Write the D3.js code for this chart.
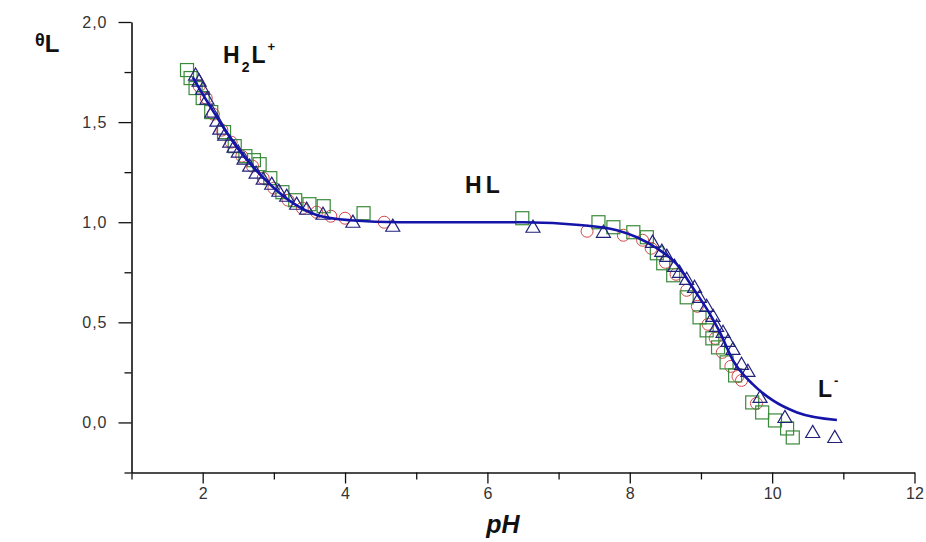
<!DOCTYPE html>
<html>
<head>
<meta charset="utf-8">
<script src="https://cdn.jsdelivr.net/npm/d3@7"></script>
<style>
  body { margin: 0; background: #fff; }
  svg { display: block; font-family: Arial, "Liberation Sans", sans-serif; }
</style>
</head>
<body>
<svg id="chart" width="926" height="542"></svg>
<script>
// ---- data (pH, theta_L) ----
const curvePH    = [1.86, 2.00, 2.20, 2.48, 2.71, 2.99, 3.27, 3.61, 4.07, 4.77, 5.5, 6.5, 7.34, 7.82, 8.10, 8.38, 8.66, 8.89, 9.12, 9.26, 9.45, 9.73, 10.01, 10.35, 10.91];
const curveTheta = [1.725, 1.64, 1.525, 1.375, 1.275, 1.175, 1.095, 1.035, 1.01, 1.00, 1.0, 1.0, 0.985, 0.96, 0.925, 0.87, 0.79, 0.67, 0.545, 0.455, 0.31, 0.19, 0.11, 0.05, 0.012];

const squarePH    = [1.78, 1.83, 1.90, 2.00, 2.12, 2.30, 2.45, 2.60, 2.72, 2.80, 2.95, 3.12, 3.30, 3.50, 3.70, 4.26, 6.49, 7.56, 7.77, 8.05, 8.24, 8.38, 8.47, 8.61, 8.80, 8.98, 9.08, 9.16, 9.24, 9.36, 9.48, 9.72, 9.86, 10.04, 10.21, 10.29];
const squareTheta = [1.76, 1.72, 1.67, 1.62, 1.55, 1.45, 1.38, 1.33, 1.31, 1.29, 1.22, 1.15, 1.11, 1.09, 1.08, 1.045, 1.02, 1.00, 0.975, 0.95, 0.925, 0.845, 0.795, 0.735, 0.625, 0.525, 0.46, 0.42, 0.375, 0.30, 0.235, 0.10, 0.05, 0.01, -0.03, -0.075];

const circlePH    = [1.95, 2.05, 2.15, 2.27, 2.40, 2.55, 2.70, 2.85, 3.00, 3.20, 3.40, 3.60, 3.80, 4.00, 4.55, 7.40, 7.91, 8.18, 8.30, 8.50, 8.65, 8.80, 8.95, 9.10, 9.20, 9.30, 9.42, 9.52, 9.57, 9.78];
const circleTheta = [1.68, 1.62, 1.54, 1.46, 1.40, 1.33, 1.28, 1.22, 1.17, 1.11, 1.07, 1.05, 1.03, 1.02, 1.00, 0.955, 0.935, 0.91, 0.87, 0.80, 0.74, 0.66, 0.58, 0.49, 0.42, 0.35, 0.28, 0.23, 0.21, 0.095];

const triPH    = [1.90, 1.95, 2.00, 2.06, 2.13, 2.20, 2.24, 2.31, 2.38, 2.44, 2.50, 2.58, 2.66, 2.75, 2.85, 2.97, 3.07, 3.18, 3.32, 3.46, 3.69, 4.11, 4.67, 6.64, 7.63, 8.32, 8.45, 8.52, 8.63, 8.70, 8.80, 8.91, 8.98, 9.08, 9.17, 9.22, 9.31, 9.38, 9.45, 9.57, 9.66, 9.83, 10.18, 10.57, 10.88];
const triTheta = [1.73, 1.70, 1.66, 1.61, 1.545, 1.50, 1.46, 1.43, 1.395, 1.37, 1.345, 1.31, 1.275, 1.24, 1.21, 1.185, 1.15, 1.125, 1.085, 1.06, 1.035, 0.995, 0.975, 0.97, 0.945, 0.895, 0.85, 0.825, 0.775, 0.745, 0.71, 0.67, 0.62, 0.575, 0.525, 0.475, 0.445, 0.40, 0.36, 0.285, 0.25, 0.12, 0.02, -0.055, -0.08];

const xTicks = [1, 2, 3, 4, 5, 6, 7, 8, 9, 10, 11, 12];
const xTickLabels = ["", "2", "", "4", "", "6", "", "8", "", "10", "", "12"];
const yTicks = [-0.25, 0, 0.25, 0.5, 0.75, 1.0, 1.25, 1.5, 1.75, 2.0];
const yTickLabels = ["", "0,0", "", "0,5", "", "1,0", "", "1,5", "", "2,0"];

// ---- scales ----
const svg = d3.select("#chart");
const x = d3.scaleLinear().domain([1, 12]).range([131.5, 914.5]);
const y = d3.scaleLinear().domain([-0.25, 2.0]).range([472.5, 22]);

// ---- axes ----
const xAxis = d3.axisBottom(x).tickValues(xTicks)
  .tickFormat((d, i) => xTickLabels[i]).tickSizeOuter(0);
const gx = svg.append("g").attr("transform", `translate(0,${y(-0.25)})`).call(xAxis);
gx.select(".domain").attr("stroke", "#111").attr("stroke-width", 1.6);
gx.selectAll(".tick line").attr("stroke", "#111").attr("stroke-width", 1.3)
  .attr("y2", (d, i) => xTickLabels[i] ? 11 : 7);
gx.selectAll(".tick text").attr("y", 15).attr("font-size", 16).attr("fill", "#333");

const yAxis = d3.axisLeft(y).tickValues(yTicks)
  .tickFormat((d, i) => yTickLabels[i]).tickSizeOuter(0);
const gy = svg.append("g").attr("transform", `translate(${x(1)},0)`).call(yAxis);
gy.select(".domain").attr("stroke", "#111").attr("stroke-width", 1.6);
gy.selectAll(".tick line").attr("stroke", "#111").attr("stroke-width", 1.3)
  .attr("x2", (d, i) => yTickLabels[i] ? -13 : -7);
gy.selectAll(".tick text").attr("x", -24).attr("font-size", 16).attr("fill", "#333")
  .attr("letter-spacing", 1);

// ---- markers ----
const squares = squarePH.map((p, i) => [p, squareTheta[i]]);
const circles = circlePH.map((p, i) => [p, circleTheta[i]]);
const tris = triPH.map((p, i) => [p, triTheta[i]]);

svg.append("g").selectAll("circle").data(circles).join("circle")
  .attr("cx", d => x(d[0])).attr("cy", d => y(d[1])).attr("r", 6)
  .attr("fill", "none").attr("stroke", "#d04848").attr("stroke-width", 1);

svg.append("g").selectAll("rect").data(squares).join("rect")
  .attr("x", d => x(d[0]) - 6.5).attr("y", d => y(d[1]) - 6.5)
  .attr("width", 13).attr("height", 13)
  .attr("fill", "none").attr("stroke", "#3a8a3a").attr("stroke-width", 1.2);

const triPath = d3.symbol().type(d3.symbolTriangle).size(85);
svg.append("g").selectAll("path").data(tris).join("path")
  .attr("d", triPath)
  .attr("transform", d => `translate(${x(d[0])},${y(d[1])})`)
  .attr("fill", "none").attr("stroke", "#22227a").attr("stroke-width", 1.2);

// ---- fitted curve ----
const curve = curvePH.map((p, i) => [p, curveTheta[i]]);
const line = d3.line().x(d => x(d[0])).y(d => y(d[1])).curve(d3.curveMonotoneX);
svg.append("path").datum(curve).attr("d", line)
  .attr("fill", "none").attr("stroke", "#1414a8").attr("stroke-width", 2.6);

// ---- labels ----
const yl = svg.append("text").attr("x", 35).attr("y", 52).attr("font-weight", "bold").attr("fill", "#111");
yl.append("tspan").attr("font-size", 18).attr("dy", -6).text("θ");
yl.append("tspan").attr("font-size", 24).attr("dy", 6).text("L");

svg.append("text").attr("x", 503).attr("y", 533).attr("text-anchor", "middle")
  .attr("font-size", 25).attr("font-weight", "bold").attr("font-style", "italic")
  .attr("fill", "#111").text("pH");

const h2l = svg.append("text").attr("x", 223).attr("y", 63).attr("font-weight", "bold").attr("fill", "#111").attr("font-size", 23);
h2l.append("tspan").text("H");
h2l.append("tspan").attr("font-size", 14).attr("dy", 9).attr("dx", 2).text("2");
h2l.append("tspan").attr("dy", -9).attr("dx", 2).text("L");
h2l.append("tspan").attr("font-size", 13).attr("dy", -12).attr("dx", 2).text("+");

const hl = svg.append("text").attr("x", 465).attr("y", 193).attr("font-weight", "bold").attr("fill", "#111").attr("font-size", 23);
hl.append("tspan").text("H");
hl.append("tspan").attr("dx", 4).text("L");

const lm = svg.append("text").attr("x", 818).attr("y", 397).attr("font-weight", "bold").attr("fill", "#111").attr("font-size", 23);
lm.append("tspan").text("L");
lm.append("tspan").attr("font-size", 13).attr("dy", -12).attr("dx", 2).text("-");
</script>
</body>
</html>
